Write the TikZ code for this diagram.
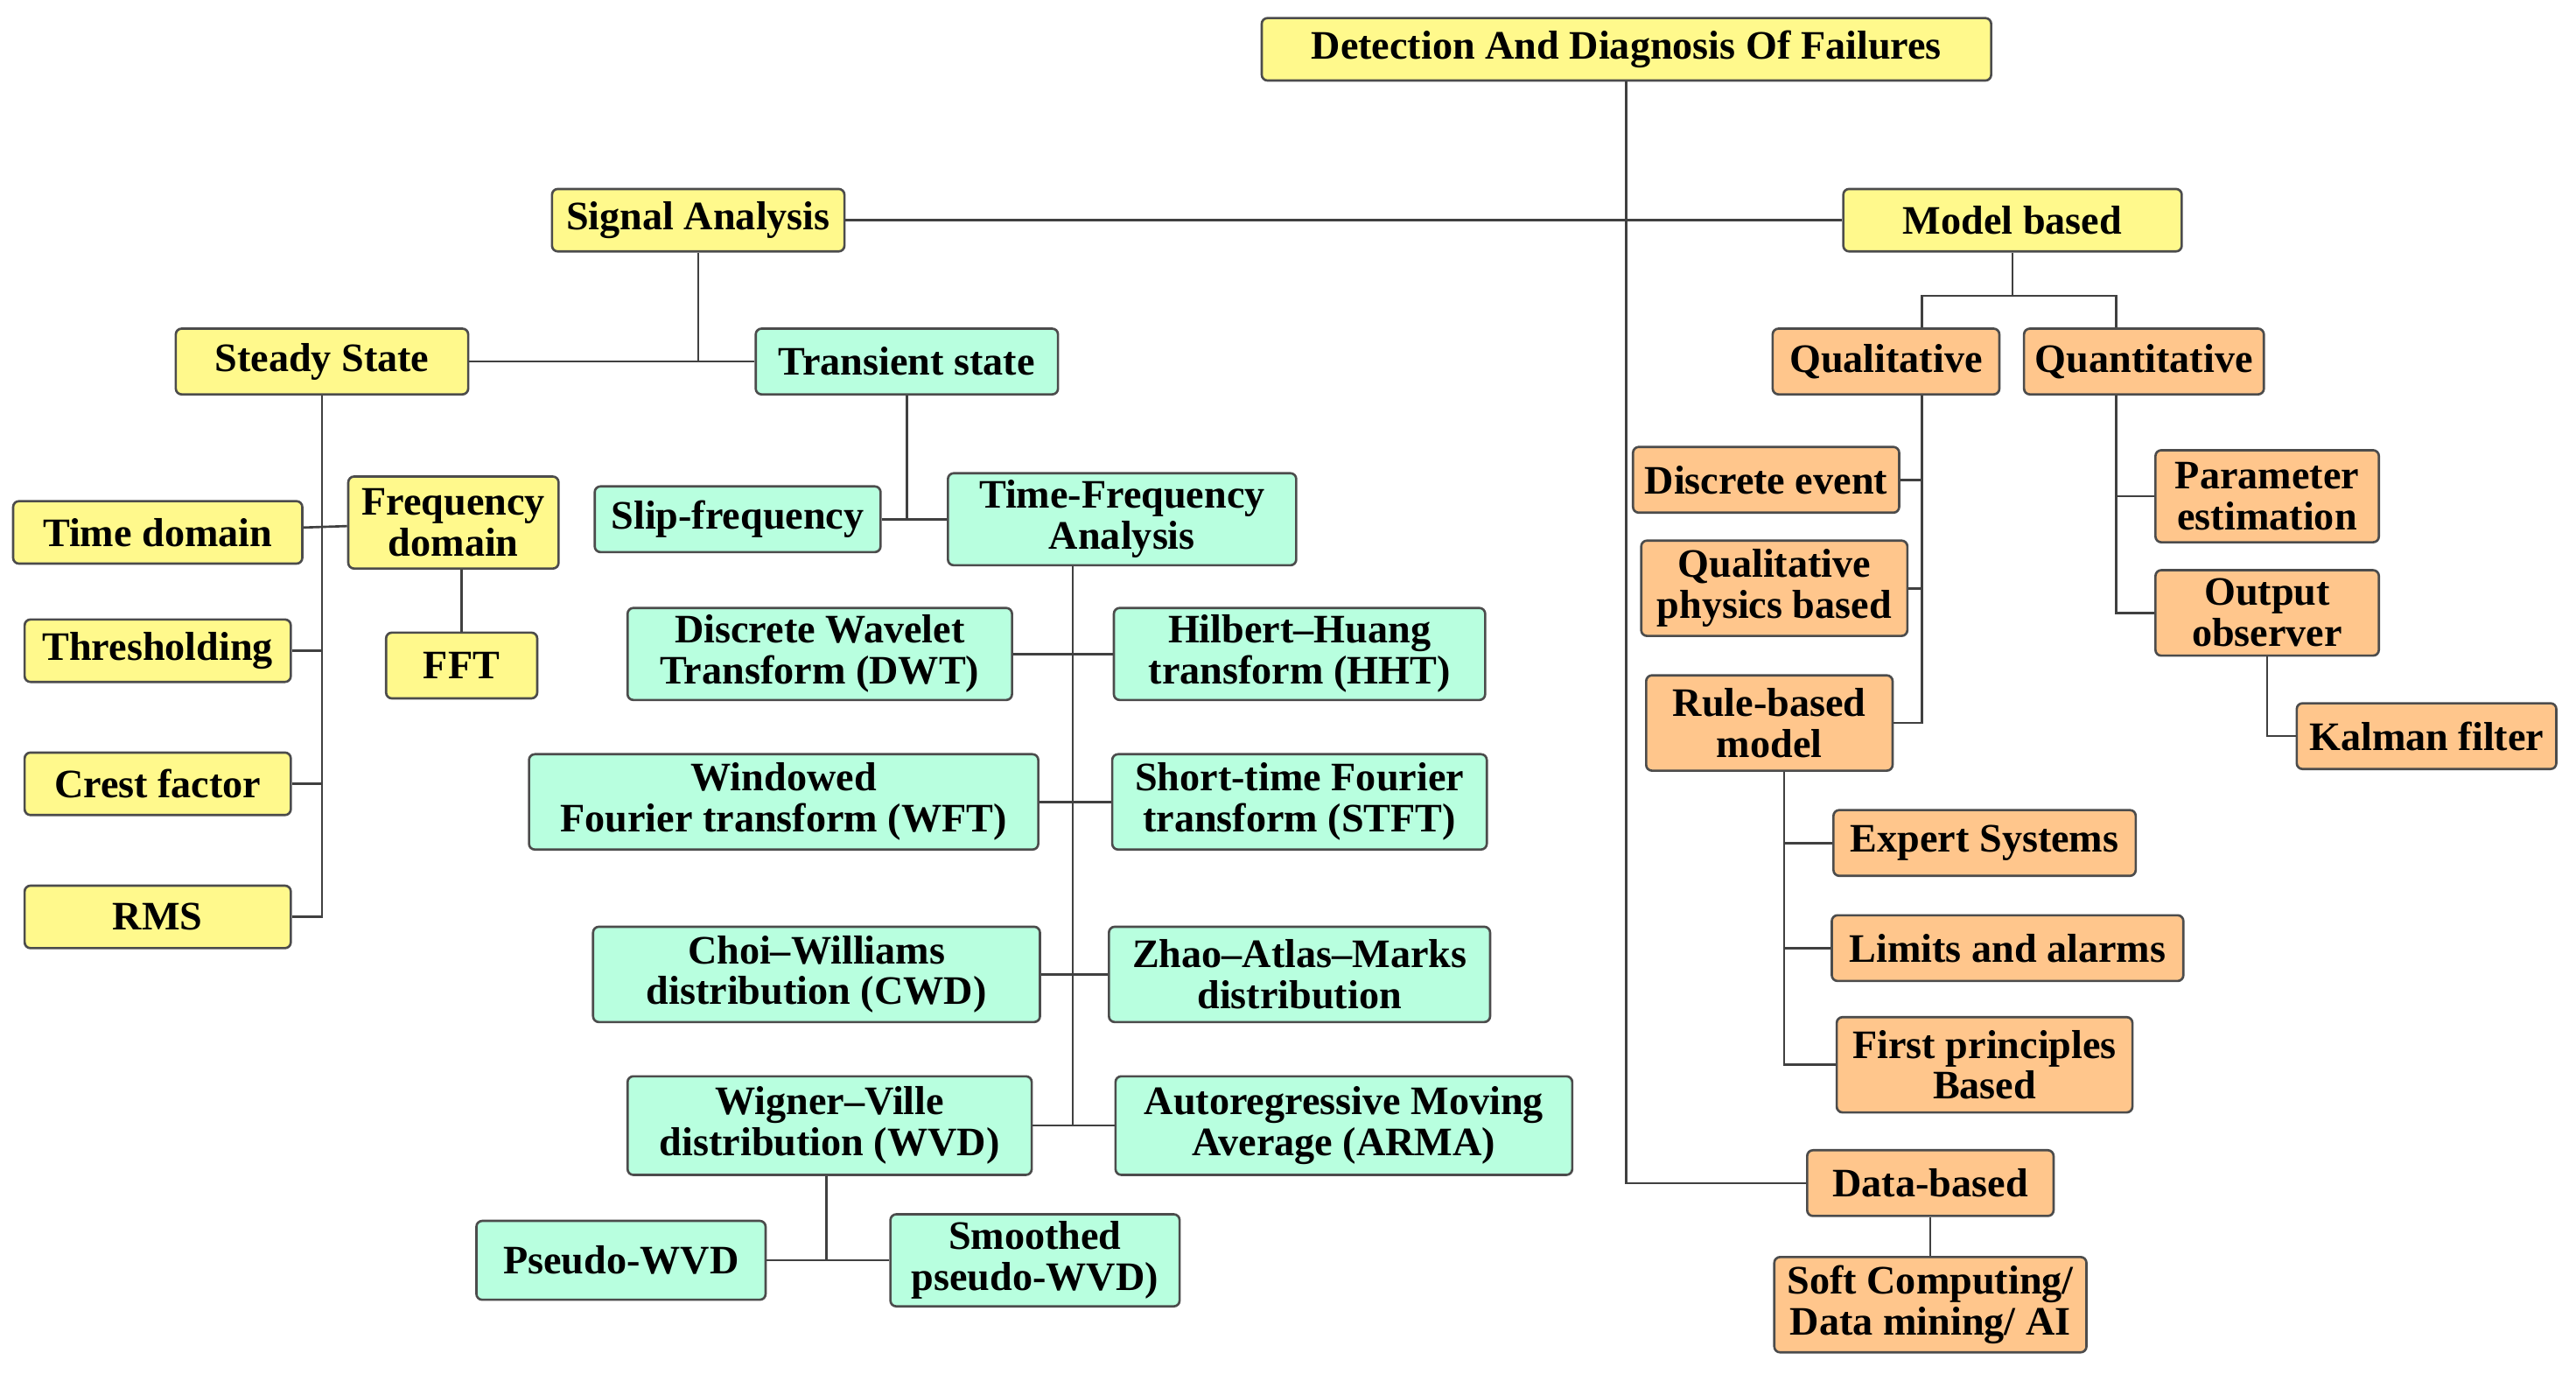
\documentclass[tikz,border=0pt]{standalone}
\usepackage{fontspec}
\setmainfont{Liberation Serif}
\usetikzlibrary{positioning}
\begin{document}
\begin{tikzpicture}
 [x=0.02cm,y=-0.02cm,
 term/.style={
  rectangle,
  rounded corners=2pt,
  draw=black!70,
  line width=0.8pt,
  inner sep=0pt,
  align=center,
  font=\fontsize{14}{14.2}\selectfont\bfseries,
  minimum height=0.8cm},
 wd/.style={minimum width=#1*0.02cm},
 ht/.style={minimum height=#1*0.02cm},
 sig/.style={term,fill=yellow!45},
 trn/.style={term,fill=green!45!cyan!28!white},
 mdl/.style={term,fill=orange!45!white},
 link/.style={draw=black!75,line width=0.8pt}]
\useasboundingbox (0,0) rectangle (1568,836);
% signal side
\node (top) [sig,wd=444,ht=38] at (990,30) {Detection And Diagnosis Of Failures};
\node (signal) [sig,wd=178,ht=38] at (425,134) {Signal Analysis};
\node (model) [sig,wd=206,ht=38] at (1225,134) {Model based};
\node (steady) [sig,wd=178,ht=40] at (196,220) {Steady State};
\node (transient) [trn,wd=184,ht=40] at (552,220) {Transient state};
\node (timedom) [sig,wd=176,ht=38] at (96,324) {Time domain};
\node (freqdom) [sig,wd=128,ht=56] at (276,318) {Frequency\\domain};
\node (thresh) [sig,wd=162,ht=38] at (96,396) {Thresholding};
\node (crest) [sig,wd=162,ht=38] at (96,477) {Crest factor};
\node (rms) [sig,wd=162,ht=38] at (96,558) {RMS};
\node (fft) [sig,wd=92,ht=40] at (281,405) {FFT};
\node (slip) [trn,wd=174,ht=40] at (449,316) {Slip-frequency};
\node (tfa) [trn,wd=212,ht=56] at (683,316) {Time-Frequency\\Analysis};
\node (dwt) [trn,wd=234,ht=56] at (499,398) {Discrete Wavelet\\Transform (DWT)};
\node (hht) [trn,wd=226,ht=56] at (791,398) {Hilbert--Huang\\transform (HHT)};
\node (wft) [trn,wd=310,ht=58] at (477,488) {Windowed\\Fourier transform (WFT)};
\node (stft) [trn,wd=228,ht=58] at (791,488) {Short-time Fourier\\transform (STFT)};
\node (cwd) [trn,wd=272,ht=58] at (497,593) {Choi--Williams\\distribution (CWD)};
\node (zam) [trn,wd=232,ht=58] at (791,593) {Zhao--Atlas--Marks\\distribution};
\node (wvd) [trn,wd=246,ht=60] at (505,685) {Wigner--Ville\\distribution (WVD)};
\node (arma) [trn,wd=278,ht=60] at (818,685) {Autoregressive Moving\\Average (ARMA)};
\node (pwvd) [trn,wd=176,ht=48] at (378,767) {Pseudo-WVD};
\node (spwvd) [trn,wd=176,ht=56] at (630,767) {Smoothed\\pseudo-WVD)};
% model side
\node (qual) [mdl,wd=138,ht=40] at (1148,220) {Qualitative};
\node (quant) [mdl,wd=146,ht=40] at (1305,220) {Quantitative};
\node (discrete) [mdl,wd=162,ht=40] at (1075,292) {Discrete event};
\node (qphys) [mdl,wd=162,ht=58] at (1080,358) {Qualitative\\physics based};
\node (rule) [mdl,wd=150,ht=58] at (1077,440) {Rule-based\\model};
\node (param) [mdl,wd=136,ht=56] at (1380,302) {Parameter\\estimation};
\node (outobs) [mdl,wd=136,ht=52] at (1380,373) {Output\\observer};
\node (kalman) [mdl,wd=158,ht=40] at (1477,448) {Kalman filter};
\node (expert) [mdl,wd=184,ht=40] at (1208,513) {Expert Systems};
\node (limits) [mdl,wd=214,ht=40] at (1222,577) {Limits and alarms};
\node (firstp) [mdl,wd=180,ht=58] at (1208,648) {First principles\\Based};
\node (data) [mdl,wd=150,ht=40] at (1175,720) {Data-based};
\node (soft) [mdl,wd=190,ht=58] at (1175,794) {Soft Computing/\\Data mining/ AI};
% junctions
\coordinate (tv) at (653,685);
\coordinate (wv) at (503,767);
\coordinate (qa) at (1170,180);
\coordinate (qb) at (1288,180);
\coordinate (qd) at (1170,440);
\coordinate (qe) at (1288,373);
\coordinate (rd) at (1086,648);
% links
\path[link] (top) -- (top |- data) -- (data);
\path[link] (signal) -- (model);
\path[link] (signal) -- (signal |- steady);
\path[link] (steady) -- (transient);
\path[link] (steady) -- (steady |- rms) -- (rms);
\path[link] (thresh) -- (steady |- thresh);
\path[link] (crest) -- (steady |- crest);
\path[link] (timedom) -- (freqdom);
\path[link] (freqdom.south -| fft) -- (fft);
\path[link] (transient) -- (transient |- slip);
\path[link] (slip) -- (tfa);
\path[link] (tfa.south -| tv) -- (tv);
\path[link] (dwt) -- (hht);
\path[link] (wft) -- (stft);
\path[link] (cwd) -- (zam);
\path[link] (wvd) -- (arma);
\path[link] (wvd.south -| wv) -- (wv);
\path[link] (pwvd) -- (spwvd);
\path[link] (model) -- (model |- qa);
\path[link] (qual.north -| qa) -- (qa) -- (qb) -- (quant.north -| qb);
\path[link] (qual.south -| qd) -- (qd) -- (rule);
\path[link] (discrete) -- (discrete -| qd);
\path[link] (qphys) -- (qphys -| qd);
\path[link] (quant.south -| qe) -- (qe) -- (outobs);
\path[link] (param) -- (param -| qe);
\path[link] (outobs) -- (outobs |- kalman) -- (kalman);
\path[link] (rule.south -| rd) -- (rd) -- (firstp);
\path[link] (expert) -- (expert -| rd);
\path[link] (limits) -- (limits -| rd);
\path[link] (data) -- (soft);
\end{tikzpicture}
\end{document}
